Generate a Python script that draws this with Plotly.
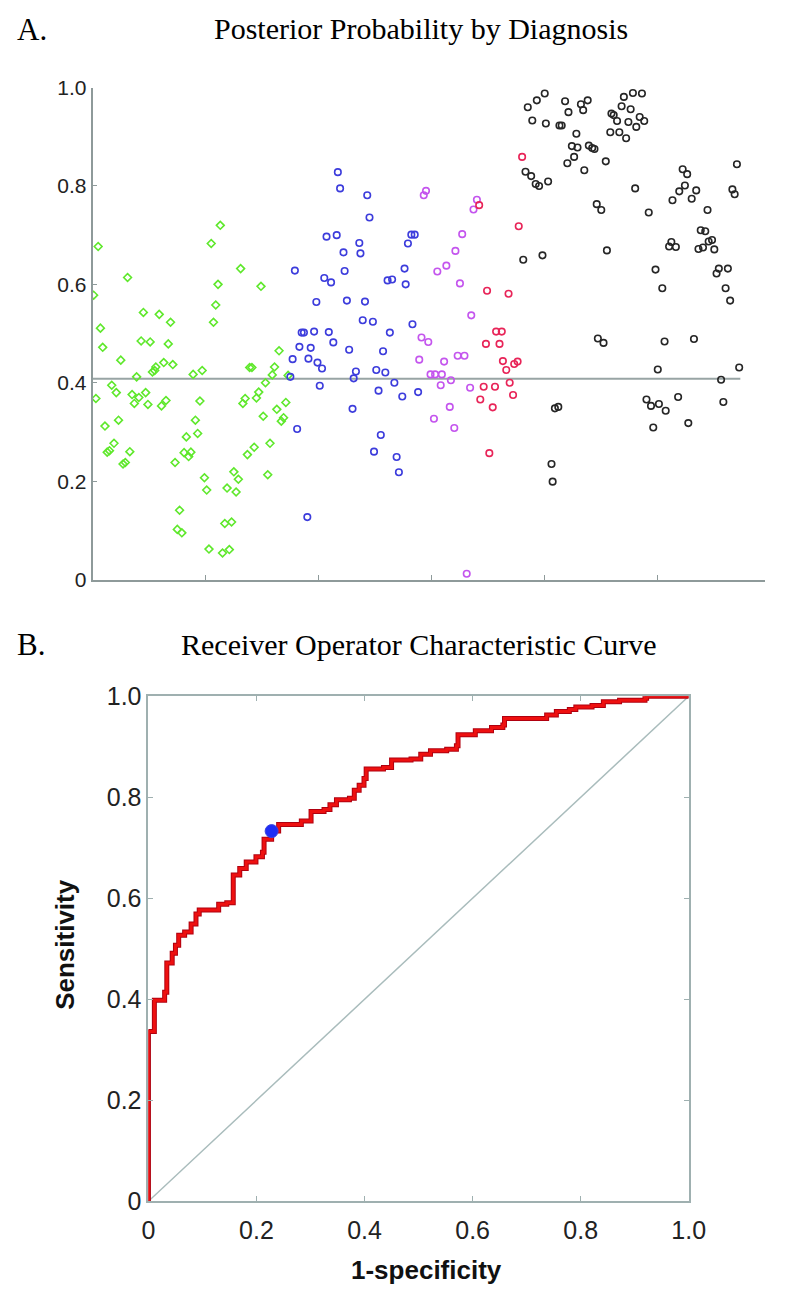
import plotly.graph_objects as go

# ---------------- Panel A data: posterior probability by diagnosis ----------------
green_pts = [(0.05,0.677),(0.31,0.614),(0.01,0.578),(1.05,0.683),(1.13,0.720),(1.31,0.632),(1.11,0.600),
             (1.49,0.596),(1.09,0.558),(0.07,0.511),(0.09,0.472),(0.25,0.446),(0.03,0.368),(0.17,0.395),
             (0.21,0.380),(0.11,0.312),(0.23,0.324),(0.13,0.259),(0.15,0.262),(0.19,0.277),(0.27,0.235),
             (0.29,0.238),(0.33,0.260),(0.35,0.376),(0.37,0.358),(0.39,0.412),(0.41,0.370),(0.43,0.485),
             (0.45,0.543),(0.47,0.380),(0.49,0.356),(0.51,0.483),(0.53,0.422),(0.55,0.425),(0.56,0.432),
             (0.59,0.539),(0.61,0.353),(0.63,0.441),(0.65,0.364),(0.67,0.479),(0.69,0.523),(0.71,0.437),
             (0.73,0.238),(0.75,0.102),(0.77,0.141),(0.79,0.095),(0.81,0.258),(0.85,0.250),(0.87,0.259),
             (0.83,0.290),(0.89,0.417),(0.91,0.324),(0.93,0.297),(0.95,0.363),(0.97,0.425),(0.99,0.207),
             (1.01,0.182),(1.03,0.062),(1.07,0.523),(1.15,0.054),(1.17,0.114),(1.23,0.117),(1.19,0.186),
             (1.21,0.061),(1.25,0.219),(1.27,0.178),(1.29,0.204),(1.33,0.358),(1.35,0.368),(1.37,0.254),
             (1.39,0.431),(1.41,0.431),(1.43,0.269),(1.45,0.369),(1.47,0.381),(1.51,0.332),(1.53,0.400),
             (1.55,0.213),(1.57,0.277),(1.59,0.416),(1.61,0.432),(1.63,0.346),(1.65,0.465),(1.67,0.322),
             (1.69,0.329),(1.71,0.360),(1.73,0.415)]

blue_pts = [(1.75,0.412),(1.77,0.448),(1.79,0.628),(1.81,0.306),(1.83,0.473),(1.85,0.502),(1.87,0.502),
            (1.90,0.127),(1.91,0.449),(1.93,0.471),(1.96,0.504),(1.98,0.564),(1.99,0.441),(2.01,0.394),
            (2.03,0.429),(2.05,0.613),(2.07,0.697),(2.09,0.503),(2.11,0.604),(2.13,0.482),(2.16,0.700),
            (2.17,0.828),(2.19,0.795),(2.22,0.665),(2.23,0.627),(2.25,0.567),(2.27,0.467),(2.30,0.347),
            (2.31,0.409),(2.33,0.423),(2.36,0.684),(2.37,0.663),(2.39,0.527),(2.41,0.565),(2.43,0.781),
            (2.45,0.736),(2.48,0.524),(2.49,0.260),(2.51,0.426),(2.53,0.384),(2.55,0.294),(2.57,0.464),
            (2.59,0.421),(2.61,0.608),(2.63,0.502),(2.65,0.610),(2.67,0.400),(2.69,0.249),(2.71,0.218),
            (2.74,0.372),(2.76,0.632),(2.77,0.600),(2.79,0.683),(2.82,0.701),(2.83,0.519),(2.85,0.701),
            (2.88,0.381)]

magenta_pts = [(2.89,0.447),(2.91,0.492),(2.93,0.781),(2.95,0.790),(2.97,0.483),(2.99,0.417),(3.02,0.327),
               (3.03,0.417),(3.05,0.626),(3.08,0.395),(3.09,0.417),(3.11,0.443),(3.13,0.638),(3.16,0.351),
               (3.17,0.405),(3.20,0.308),(3.21,0.668),(3.23,0.455),(3.25,0.602),(3.27,0.702),(3.29,0.455),
               (3.31,0.012),(3.34,0.390),(3.35,0.537),(3.37,0.752),(3.40,0.772)]

red_pts = [(3.42,0.761),(3.43,0.366),(3.46,0.392),(3.48,0.479),(3.49,0.587),(3.51,0.257),(3.54,0.350),
           (3.56,0.392),(3.57,0.504),(3.60,0.479),(3.62,0.504),(3.63,0.444),(3.66,0.426),(3.68,0.581),
           (3.69,0.400),(3.72,0.375),(3.73,0.438),(3.76,0.443),(3.77,0.718),(3.80,0.859)]

black_pts = [(3.81,0.650),(3.83,0.829),(3.85,0.960),(3.88,0.820),(3.89,0.933),(3.92,0.804),(3.93,0.974),
             (3.95,0.800),(3.98,0.659),(4.00,0.988),(4.01,0.927),(4.03,0.809),(4.06,0.235),(4.07,0.199),
             (4.09,0.348),(4.12,0.351),(4.13,0.923),(4.15,0.923),(4.18,0.972),(4.20,0.846),(4.21,0.950),
             (4.24,0.881),(4.26,0.859),(4.28,0.906),(4.29,0.878),(4.32,0.966),(4.34,0.954),(4.35,0.832),
             (4.38,0.974),(4.39,0.882),(4.42,0.877),(4.44,0.875),(4.46,0.763),(4.47,0.490),(4.50,0.751),
             (4.52,0.481),(4.54,0.850),(4.55,0.669),(4.58,0.909),(4.59,0.947),(4.61,0.944),(4.64,0.932),
             (4.66,0.909),(4.68,0.962),(4.70,0.981),(4.72,0.897),(4.74,0.930),(4.76,0.956),(4.78,0.989),
             (4.80,0.795),(4.81,0.920),(4.84,0.940),(4.86,0.988),(4.88,0.932),(4.90,0.366),(4.92,0.746),
             (4.94,0.353),(4.96,0.309),(4.98,0.630),(5.00,0.427),(5.01,0.357),(5.04,0.592),(5.06,0.484),
             (5.07,0.343),(5.10,0.677),(5.12,0.686),(5.13,0.771),(5.16,0.676),(5.18,0.371),(5.19,0.789),
             (5.22,0.834),(5.24,0.801),(5.26,0.824),(5.27,0.318),(5.30,0.774),(5.32,0.489),(5.34,0.791),
             (5.36,0.672),(5.38,0.710),(5.40,0.675),(5.42,0.708),(5.44,0.751),(5.45,0.687),(5.48,0.690),
             (5.50,0.671),(5.52,0.622),(5.54,0.632),(5.56,0.406),(5.58,0.361),(5.60,0.592),(5.62,0.632),
             (5.64,0.567),(5.66,0.793),(5.68,0.783),(5.70,0.844),(5.72,0.431)]

threshold_value = 0.408
threshold_x = [0.0, 5.73]

a_ytick_vals = [0, 0.2, 0.4, 0.6, 0.8, 1.0]
a_ytick_text = ["0", "0.2", "0.4", "0.6", "0.8", "1.0"]
a_xtick_vals = [1, 2, 3, 4, 5]

# ---------------- Panel B data: ROC curve ----------------
roc_fpr = [0.000, 0.000, 0.011, 0.030, 0.034, 0.044, 0.050, 0.056, 0.067, 0.079, 0.088, 0.094, 0.130,
           0.145, 0.157, 0.157, 0.169, 0.181, 0.199, 0.211, 0.214, 0.228, 0.241, 0.283, 0.301, 0.325,
           0.336, 0.348, 0.372, 0.381, 0.390, 0.399, 0.403, 0.435, 0.450, 0.486, 0.504, 0.522, 0.552,
           0.570, 0.573, 0.605, 0.635, 0.656, 0.659, 0.737, 0.755, 0.779, 0.791, 0.821, 0.842, 0.872,
           0.919, 0.922, 1.000]
roc_tpr = [0.000, 0.336, 0.398, 0.414, 0.472, 0.491, 0.507, 0.527, 0.533, 0.549, 0.569, 0.577, 0.588,
           0.591, 0.596, 0.646, 0.659, 0.672, 0.682, 0.691, 0.717, 0.733, 0.746, 0.753, 0.772, 0.776,
           0.785, 0.795, 0.798, 0.814, 0.824, 0.837, 0.856, 0.859, 0.874, 0.876, 0.885, 0.892, 0.895,
           0.902, 0.924, 0.932, 0.938, 0.943, 0.956, 0.963, 0.970, 0.974, 0.979, 0.982, 0.989, 0.992,
           0.996, 1.000, 1.000]
operating_point = (0.228, 0.733)
chance_line = [0.0, 1.0]
b_tick_vals = [0, 0.2, 0.4, 0.6, 0.8, 1.0]
b_tick_text = ["0", "0.2", "0.4", "0.6", "0.8", "1.0"]

# The page keeps the browser's default 8px body margin, so the figure is sized to fit
# exactly inside the 790x1302 window; positions below are given in window pixels.
PAGE_MARGIN = 8
W, H = 790 - 2 * PAGE_MARGIN, 1302 - 2 * PAGE_MARGIN
def px_x(px):
    return min(max((px - PAGE_MARGIN) / W, 0.0), 1.0)
def px_y(py):
    return min(max(1 - (py - PAGE_MARGIN) / H, 0.0), 1.0)

# panel A x axis: ticks every 116.67 window px starting at px 88; figure ends at px 782
a_x_left, a_x_right, a_unit_px = 88, 782, 116.67

fig = go.Figure()

def add_group(pts, color, symbol, size):
    fig.add_trace(go.Scatter(
        x=[p[0] for p in pts], y=[p[1] for p in pts], mode="markers",
        marker=dict(symbol=symbol, size=size, color=color, line=dict(color=color, width=1.6)),
        xaxis="x", yaxis="y", showlegend=False, hoverinfo="skip"))

fig.add_trace(go.Scatter(x=threshold_x, y=[threshold_value] * 2, mode="lines",
                         line=dict(color="#98a4a4", width=2), xaxis="x", yaxis="y",
                         showlegend=False, hoverinfo="skip"))
add_group(green_pts, "#5fe82c", "diamond-open", 6)
add_group(blue_pts, "#3c3cdc", "circle-open", 6.5)
add_group(magenta_pts, "#c455ee", "circle-open", 6.5)
add_group(red_pts, "#e82458", "circle-open", 6.5)
add_group(black_pts, "#262626", "circle-open", 6.5)

# ROC
fig.add_trace(go.Scatter(x=chance_line, y=chance_line, mode="lines",
                         line=dict(color="#a9bcbc", width=1.5), xaxis="x2", yaxis="y2",
                         showlegend=False, hoverinfo="skip"))
fig.add_trace(go.Scatter(x=roc_fpr, y=roc_tpr, mode="lines", line_shape="hv",
                         line=dict(color="#b0000f", width=5), xaxis="x2", yaxis="y2",
                         showlegend=False, hoverinfo="skip"))
fig.add_trace(go.Scatter(x=roc_fpr, y=roc_tpr, mode="lines", line_shape="hv",
                         line=dict(color="#ee1010", width=3), xaxis="x2", yaxis="y2",
                         showlegend=False, hoverinfo="skip"))
fig.add_trace(go.Scatter(x=[operating_point[0]], y=[operating_point[1]], mode="markers",
                         marker=dict(size=13, color="#1f2ef5", line=dict(color="#3a44e0", width=1)),
                         xaxis="x2", yaxis="y2", showlegend=False, hoverinfo="skip"))

axis_a = dict(showgrid=False, zeroline=False, showline=True, linecolor="#8e9a9a", linewidth=1.6,
              ticks="inside", ticklen=5, tickcolor="#8e9a9a", tickwidth=1.2)
axis_b = dict(showgrid=False, zeroline=False, showline=True, linecolor="#9fb0b0", linewidth=1.8,
              ticks="inside", ticklen=5, tickcolor="#9fb0b0", tickwidth=1.2, mirror="ticks",
              tickfont=dict(family="Liberation Sans, Arial", size=25, color="#222222"))

fig.update_layout(
    width=W, height=H, margin=dict(l=0, r=0, t=0, b=0),
    paper_bgcolor="white", plot_bgcolor="white", showlegend=False,
    xaxis=dict(domain=[px_x(a_x_left), px_x(a_x_right)],
               range=[0, (a_x_right - a_x_left) / a_unit_px], tickvals=a_xtick_vals,
               showticklabels=False, anchor="y", **axis_a),
    yaxis=dict(domain=[px_y(578), px_y(75)], range=[0, 1], tickvals=a_ytick_vals,
               ticktext=a_ytick_text, anchor="x",
               tickfont=dict(family="Liberation Sans, Arial", size=21, color="#222222"), **axis_a),
    xaxis2=dict(domain=[px_x(145.7), px_x(703.3)], range=[0, 1], tickvals=b_tick_vals,
                ticktext=b_tick_text, anchor="y2", ticklabelstandoff=6, **axis_b),
    yaxis2=dict(domain=[px_y(1213.5), px_y(697.3)], range=[0, 1], tickvals=b_tick_vals,
                ticktext=b_tick_text, anchor="x2", **axis_b),
)

serif = "Liberation Serif, Times New Roman, serif"
ann = [
    dict(text="A.", x=px_x(8), y=px_y(16), xanchor="left", yanchor="middle", font=dict(family=serif, size=31, color="black")),
    dict(text="Posterior Probability by Diagnosis", x=px_x(427), y=px_y(15), xanchor="center", yanchor="middle",
         font=dict(family=serif, size=30, color="black")),
    dict(text="B.", x=px_x(8), y=px_y(644), xanchor="left", yanchor="middle", font=dict(family=serif, size=31, color="black")),
    dict(text="Receiver Operator Characteristic Curve", x=px_x(425), y=px_y(644), xanchor="center", yanchor="middle",
         font=dict(family=serif, size=30, color="black")),
    dict(text="<b>Sensitivity</b>", x=px_x(60), y=px_y(951), xanchor="center", yanchor="middle", textangle=-90,
         font=dict(family="Liberation Sans, Arial", size=26, color="#111111")),
    dict(text="<b>1-specificity</b>", x=px_x(433), y=px_y(1284), xanchor="center", yanchor="middle",
         font=dict(family="Liberation Sans, Arial", size=26, color="#111111")),
]
for a in ann:
    a.update(xref="paper", yref="paper", showarrow=False, yshift=0)
fig.update_layout(annotations=ann)

fig.write_html("out.html", config={"displayModeBar": False})
